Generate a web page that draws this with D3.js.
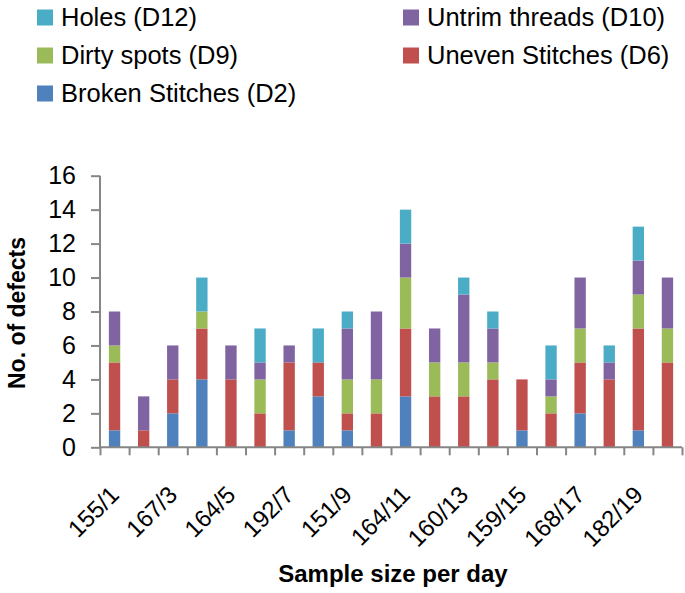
<!doctype html>
<html>
<head>
<meta charset="UTF-8">
<title>Defects per day</title>
<script src="https://d3js.org/d3.v7.min.js"></script>
<style>
  body { margin: 0; background: #ffffff; }
  svg { display: block; font-family: "Liberation Sans", Arial, sans-serif; }
</style>
</head>
<body>
<script>

// -------------------------------------- data

var days = d3.range(1, 21);
// sample size per day, only the labelled (odd) days can be read
var sampleSizes = [155, null, 167, null, 164, null, 192, null, 151, null,
                   164, null, 160, null, 159, null, 168, null, 182, null];

var seriesKeys = ["broken", "uneven", "dirty", "untrim", "holes"];
var seriesNames = {
  holes: "Holes (D12)",
  untrim: "Untrim threads (D10)",
  dirty: "Dirty spots (D9)",
  uneven: "Uneven Stitches (D6)",
  broken: "Broken Stitches (D2)"
};

var broken = [1, 0, 2, 4, 0, 0, 1, 3, 1, 0, 3, 0, 0, 0, 1, 0, 2, 0, 1, 0];
var uneven = [4, 1, 2, 3, 4, 2, 4, 2, 1, 2, 4, 3, 3, 4, 3, 2, 3, 4, 6, 5];
var dirty  = [1, 0, 0, 1, 0, 2, 0, 0, 2, 2, 3, 2, 2, 1, 0, 1, 2, 0, 2, 2];
var untrim = [2, 2, 2, 0, 2, 1, 1, 0, 3, 4, 2, 2, 4, 2, 0, 1, 3, 1, 2, 3];
var holes  = [0, 0, 0, 2, 0, 2, 0, 2, 1, 0, 2, 0, 1, 1, 0, 2, 0, 1, 2, 0];

var yTicks = [0, 2, 4, 6, 8, 10, 12, 14, 16];

// -------------------------------------- colours

var colors = {
  holes: "#4bacc6",
  untrim: "#8064a2",
  dirty: "#9bbb59",
  uneven: "#c0504d",
  broken: "#4f81bd"
};
var axis_col = "#868686";

// -------------------------------------- svg

var width = 685, height = 593;
var plot = { left: 100, right: 682, top: 175.7, bottom: 447.3 };

var svg = d3.select("body").append("svg")
  .attr("width", width)
  .attr("height", height);

var rows = days.map(function(d, i) {
  return { day: d, broken: broken[i], uneven: uneven[i], dirty: dirty[i],
           untrim: untrim[i], holes: holes[i] };
});

// -------------------------------------- scales

var x = d3.scaleBand()
  .domain(days)
  .range([plot.left, plot.right])
  .paddingInner(0.61)
  .paddingOuter(0.305);

var xEdges = d3.scaleLinear()
  .domain([0, days.length])
  .range([plot.left, plot.right]);

var y = d3.scaleLinear()
  .domain([0, 16])
  .range([plot.bottom, plot.top]);

var stack = d3.stack().keys(seriesKeys)(rows);

// -------------------------------------- bars

svg.append("g").selectAll("g")
  .data(stack)
  .enter().append("g")
  .attr("fill", function(s) { return colors[s.key]; })
  .selectAll("rect")
  .data(function(s) { return s; })
  .enter().append("rect")
  .attr("x", function(d) { return x(d.data.day); })
  .attr("width", x.bandwidth())
  .attr("y", function(d) { return y(d[1]); })
  .attr("height", function(d) { return y(d[0]) - y(d[1]); });

// -------------------------------------- y axis

var yAxis = svg.append("g")
  .attr("transform", "translate(" + plot.left + ",0)")
  .call(d3.axisLeft(y).tickValues(yTicks).tickSize(9).tickPadding(15));

yAxis.select(".domain").attr("stroke", axis_col).attr("stroke-width", 2)
  .attr("d", "M0," + plot.top + "V" + plot.bottom);
yAxis.selectAll(".tick line").attr("stroke", axis_col).attr("stroke-width", 2);
yAxis.selectAll(".tick text")
  .style("font-size", "25px")
  .style("font-family", "Liberation Sans, Arial, sans-serif")
  .attr("fill", "#000");

// -------------------------------------- x axis

var xAxis = svg.append("g")
  .attr("transform", "translate(0," + plot.bottom + ")")
  .call(d3.axisBottom(xEdges).tickValues(d3.range(0, days.length + 1))
    .tickSize(8).tickFormat(""));

xAxis.select(".domain").attr("stroke", axis_col).attr("stroke-width", 2)
  .attr("d", "M" + plot.left + ",0H" + plot.right);
xAxis.selectAll(".tick line").attr("stroke", axis_col).attr("stroke-width", 2);

svg.append("g").selectAll("text")
  .data(days.filter(function(d, i) { return sampleSizes[i] !== null; }))
  .enter().append("text")
  .attr("transform", function(d) {
    return "translate(" + (x(d) + x.bandwidth() / 2) + "," + (plot.bottom + 43) + ") rotate(-45)";
  })
  .attr("text-anchor", "end")
  .attr("dominant-baseline", "central")
  .style("font-size", "24px")
  .text(function(d) { return sampleSizes[d - 1] + "/" + d; });

// -------------------------------------- axis titles

svg.append("text")
  .attr("x", 393)
  .attr("y", 582)
  .attr("text-anchor", "middle")
  .style("font-size", "24px")
  .style("font-weight", "bold")
  .text("Sample size per day");

svg.append("text")
  .attr("transform", "translate(25,313) rotate(-90)")
  .attr("text-anchor", "middle")
  .style("font-size", "23px")
  .style("font-weight", "bold")
  .text("No. of defects");

// -------------------------------------- legend

var legendItems = [
  { key: "holes", col: 0, row: 0 },
  { key: "untrim", col: 1, row: 0 },
  { key: "dirty", col: 0, row: 1 },
  { key: "uneven", col: 1, row: 1 },
  { key: "broken", col: 0, row: 2 }
];

var legend = svg.append("g").selectAll("g")
  .data(legendItems)
  .enter().append("g")
  .attr("transform", function(d) {
    return "translate(" + (d.col === 0 ? 37 : 403) + "," + (25.5 + d.row * 38) + ")";
  });

legend.append("rect")
  .attr("x", 0)
  .attr("y", -16)
  .attr("width", 16)
  .attr("height", 16)
  .attr("fill", function(d) { return colors[d.key]; });

legend.append("text")
  .attr("x", 24)
  .attr("y", 0)
  .style("font-size", "25.5px")
  .text(function(d) { return seriesNames[d.key]; });

</script>
</body>
</html>
